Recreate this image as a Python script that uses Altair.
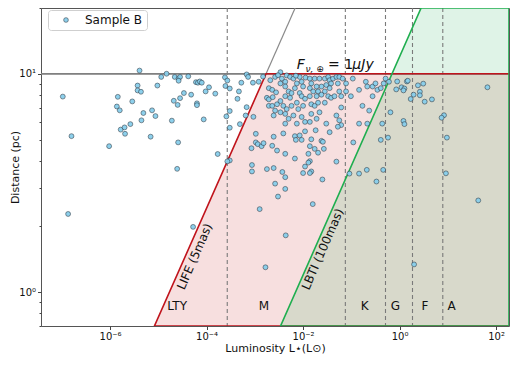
import altair as alt
import pandas as pd
import numpy as np

# ---------------- data ----------------
# Sample B stars: log10 luminosity (L_sun) and distance (pc)
LOG_L = [
    -6.98, -6.80, -6.02, -5.84, -5.86, -5.80, -5.78, -5.70, -5.69, -5.58,
    -5.54, -5.43, -5.43, -5.36, -5.35, -5.31, -5.39, -5.16, -5.13, -5.06,
    -5.02, -4.94, -4.83, -4.72, -4.68, -4.60, -4.59, -4.55, -4.66, -4.58,
    -4.55, -4.58, -4.47, -4.38, -4.32, -4.61, -4.22, -4.18, -4.14, -4.10,
    -4.20, -4.20, -4.06, -4.02, -3.95, -3.82, -3.77, -3.62, -3.61, -3.57,
    -3.59, -3.52, -3.52, -3.52, -3.52, -3.57, -3.36, -3.31, -3.28, -3.33,
    -3.17, -3.14, -3.17, -3.19, -3.04, -3.03, -2.98, -2.98, -3.07, -3.06,
    -3.06, -6.87, -4.28, -2.92, -2.47, -2.58, -2.68, -2.71, -2.64, -2.75,
    -2.71, -2.63, -2.56, -2.47, -2.44, -2.37, -2.37, -2.34, -2.27, -2.20,
    -2.30, -2.24, -2.37, -2.27, -2.17, -2.13, -2.07, -2.03, -2.00, -2.07,
    -2.03, -1.96, -2.71, -2.64, -2.54, -2.47, -2.41, -2.34, -2.24, -2.13,
    -2.10, -2.00, -2.58, -2.47, -2.61, -2.37, -2.30, -2.20, -2.03, -1.96,
    -2.37, -2.13, -2.83, -2.52, -2.15, -1.95, -1.86, -1.83, -1.86, -1.76,
    -1.66, -1.55, -1.48, -1.45, -1.42, -1.52, -1.62, -1.72, -1.79, -1.69,
    -1.55, -1.45, -1.38, -1.31, -1.25, -1.18, -1.28, -1.86, -1.72, -1.62,
    -1.48, -1.42, -1.35, -1.25, -1.21, -1.83, -1.76, -1.69, -1.55, -1.83,
    -1.66, -1.72, -1.86, -1.52, -1.31, -1.25, -1.21, -1.21, -1.28, -1.11,
    -1.11, -1.01, -0.97, -0.84, -0.77, -0.70, -0.67, -0.56, -0.56, -0.50,
    -0.46, -0.39, -0.33, -0.29, -0.22, -0.63, -0.67, -0.84, -0.36, -0.19,
    -2.61, -2.41, -2.17, -2.07, -2.15, -2.03, -1.96, -2.94, -2.86, -2.82,
    -2.64, -2.54, -2.37, -2.17, -1.96, -2.75, -2.61, -2.43, -2.37, -2.00,
    -2.58, -2.37, -2.52, -1.74, -1.45, -1.83, -1.62, -1.59, -1.86, -1.76,
    -1.57, -1.69, -1.89, -1.86, -1.89, -1.31, -1.83, -1.86, -1.60, -0.96,
    -1.04, -0.84, -0.68, -0.39, -0.24, -0.34, -0.48, -2.90, -1.80, -2.36,
    -2.78, 1.63, 0.30, -0.05, -0.07, 0.04, 0.10, 0.08, 0.15, 0.17,
    0.38, 0.49, 0.42, 0.42, 0.29, 0.23, 0.52, 0.67, 0.08, 0.10,
    0.92, 0.87, 0.98, 0.96, 1.82,
]
DIST = [
    7.86, 5.18, 4.66, 7.84, 7.08, 6.80, 5.55, 5.68, 5.31, 5.88,
    7.47, 8.83, 8.39, 8.27, 6.12, 6.61, 10.34, 5.15, 6.80, 6.40,
    8.83, 9.67, 10.0, 6.10, 7.52, 7.20, 4.85, 7.73, 9.67, 9.53,
    9.67, 9.29, 8.16, 9.73, 8.02, 3.67, 9.15, 9.10, 9.22, 9.10,
    7.32, 7.18, 6.18, 8.30, 8.67, 8.11, 4.29, 9.63, 8.79, 9.31,
    6.38, 8.56, 6.75, 5.66, 4.01, 3.97, 7.68, 5.88, 9.10, 8.30,
    9.93, 9.67, 7.03, 6.44, 9.10, 6.35, 5.31, 4.85, 4.56, 3.82,
    3.57, 2.28, 1.99, 9.19, 10.17, 9.67, 9.34, 8.59, 8.44, 7.76,
    7.63, 7.81, 8.22, 9.03, 9.50, 9.19, 8.74, 9.83, 9.67, 9.50,
    8.30, 8.16, 7.89, 7.76, 8.59, 9.03, 9.67, 9.19, 8.74, 8.16,
    7.89, 7.68, 7.13, 7.13, 7.25, 7.50, 7.13, 6.89, 7.13, 7.37,
    6.89, 7.13, 6.78, 6.66, 6.44, 6.55, 6.22, 6.44, 6.34, 6.02,
    5.91, 5.91, 9.70, 9.85, 9.80, 9.60, 9.50, 9.03, 8.59, 9.50,
    9.50, 9.50, 9.67, 9.34, 9.03, 8.88, 8.74, 8.74, 8.30, 8.30,
    8.30, 8.59, 9.50, 9.67, 9.67, 9.50, 9.03, 7.89, 7.89, 8.02,
    7.89, 7.76, 7.89, 8.30, 7.89, 7.25, 7.13, 7.37, 7.37, 6.55,
    6.66, 6.22, 6.02, 5.91, 6.44, 6.12, 7.01, 5.82, 5.72, 9.03,
    8.30, 7.89, 9.50, 8.44, 7.13, 9.19, 8.74, 8.74, 7.89, 9.03,
    8.44, 8.59, 9.03, 9.50, 9.19, 6.78, 5.91, 5.91, 5.91, 6.66,
    5.15, 5.33, 5.18, 5.22, 4.98, 4.98, 5.45, 4.76, 4.66, 4.81,
    4.68, 4.45, 4.30, 4.09, 3.76, 3.66, 3.70, 3.55, 3.36, 3.51,
    3.14, 2.97, 2.74, 5.51, 5.40, 5.01, 4.93, 4.88, 4.66, 4.53,
    4.53, 4.35, 4.30, 3.98, 3.92, 3.96, 3.57, 3.51, 3.28, 4.85,
    3.49, 3.49, 3.63, 4.98, 5.10, 3.63, 3.21, 2.40, 2.53, 1.82,
    1.30, 2.63, 1.34, 9.22, 8.48, 8.67, 8.56, 8.39, 9.22, 9.29,
    8.85, 9.01, 8.27, 7.97, 8.02, 7.66, 7.45, 7.63, 6.08, 5.88,
    6.46, 6.29, 5.10, 3.50, 8.67,
]

# axis ranges and ticks
L_RANGE = [3.7e-8, 185]
D_RANGE = [0.7, 20]
X_TICKS = [1e-6, 1e-4, 1e-2, 1, 100]
Y_TICKS = [0.7, 0.8, 0.9, 1, 2, 3, 4, 5, 6, 7, 8, 9, 10, 20]

# LIFE (5 mas) region: slanted edge from d=0.7 pc up to the 1 uJy limit at 10 pc
LIFE_L = [8.3e-6, 1.71e-3, 185]
LIFE_TOP = [0.7, 10, 10]
LIFE_EDGE_L = [185, 8.3e-6, 1.71e-3, 185]
LIFE_EDGE_D = [0.7, 0.7, 10, 10]
LIFE_EXT_L = [1.71e-3, 6.84e-3]          # gray continuation above 10 pc
LIFE_EXT_D = [10, 20]

# LBTI (100 mas) region
LBTI_L = [3.41e-3, 2.79, 185]
LBTI_TOP = [0.7, 20, 20]
LBTI_EDGE_L = [185, 3.41e-3, 2.79, 185, 185]
LBTI_EDGE_D = [0.7, 0.7, 20, 20, 0.7]
BOTH_L = [3.41e-3, 0.697, 185]
BOTH_TOP = [0.7, 10, 10]

# spectral-type boundaries and labels
SPT_BOUNDS = [2.68e-4, 0.0751, 0.51, 1.85, 7.85]
SPT_NAMES = ["LTY", "M", "K", "G", "F", "A"]
SPT_LABEL_L = [2.45e-5, 1.55e-3, 0.19, 0.82, 3.37, 12.0]
SPT_LABEL_D = 0.865

FONT = "DejaVu Sans"
RED = "#c0141c"
GREEN = "#1fae4f"
W, H = 468, 318

# ---------------- scales / axes ----------------
xs = alt.Scale(type="log", domain=L_RANGE, nice=False)
ys = alt.Scale(type="log", domain=D_RANGE, nice=False)
xlab = ("datum.value < 1e-5 ? '10⁻⁶' : datum.value < 1e-3 ? '10⁻⁴' : "
        "datum.value < 0.1 ? '10⁻²' : datum.value < 10 ? '10⁰' : '10²'")
ylab = "datum.value == 1 ? '10⁰' : datum.value == 10 ? '10¹' : ''"
xaxis = alt.Axis(values=X_TICKS, labelExpr=xlab, title="Luminosity L⋆(L⊙)",
                 grid=False, domain=False, tickSize=3.5, tickColor="#444",
                 labelFontSize=10, labelFont=FONT, labelColor="#111",
                 titleFont=FONT, titleFontSize=11, titleFontWeight="normal",
                 titleColor="#111", labelPadding=1.5, titlePadding=1)
yaxis = alt.Axis(values=Y_TICKS, labelExpr=ylab, title="Distance (pc)",
                 grid=False, domain=False,
                 tickSize={"condition": {"test": "datum.value == 1 || datum.value == 10",
                                         "value": 3.5}, "value": 2},
                 tickColor="#444",
                 labelFontSize=10, labelFont=FONT, labelColor="#111",
                 titleFont=FONT, titleFontSize=11, titleFontWeight="normal",
                 titleColor="#111", labelPadding=2,
                 titleX=-32, titleY=H / 2, titleAngle=270, titleBaseline="top",
                 titleAlign="center")


def X(field="L"):
    return alt.X(f"{field}:Q", scale=xs, axis=xaxis)


def Y(field="d"):
    return alt.Y(f"{field}:Q", scale=ys, axis=yaxis)


# ---------------- tables ----------------
stars = pd.DataFrame({"L": np.power(10.0, LOG_L), "d": DIST, "series": "Sample B"})
life_fill = pd.DataFrame({"L": LIFE_L, "top": LIFE_TOP, "bot": D_RANGE[0]})
lbti_fill = pd.DataFrame({"L": LBTI_L, "top": LBTI_TOP, "bot": D_RANGE[0]})
both_fill = pd.DataFrame({"L": BOTH_L, "top": BOTH_TOP, "bot": D_RANGE[0]})
life_edge = pd.DataFrame({"L": LIFE_EDGE_L, "d": LIFE_EDGE_D, "o": range(len(LIFE_EDGE_L))})
lbti_edge = pd.DataFrame({"L": LBTI_EDGE_L, "d": LBTI_EDGE_D, "o": range(len(LBTI_EDGE_L))})
life_ext = pd.DataFrame({"L": LIFE_EXT_L, "d": LIFE_EXT_D})
bounds = pd.DataFrame({"L": SPT_BOUNDS})
spt = pd.DataFrame({"L": SPT_LABEL_L, "d": SPT_LABEL_D, "t": SPT_NAMES})


def area(df, color):
    return alt.Chart(df).mark_area(color=color, opacity=1, clip=True).encode(
        x=X(), y=Y("top"), y2="bot:Q")


def edge(df, color):
    return alt.Chart(df).mark_line(color=color, strokeWidth=1.6, clip=True).encode(
        x=X(), y=Y(), order="o:Q")


def label(text, L, d, size=12, angle=0, style="normal", align="center", baseline="middle"):
    df = pd.DataFrame({"L": [L], "d": [d], "t": [text]})
    return alt.Chart(df).mark_text(font=FONT, fontSize=size, angle=angle, fontStyle=style,
                                   align=align, baseline=baseline, color="#111").encode(
        x=X(), y=Y(), text="t:N")


layers = [
    area(life_fill, "#f7dfdf"),
    area(lbti_fill, "#dff3e7"),
    area(both_fill, "#d8d9cb"),
    alt.Chart(bounds).mark_rule(color="#7a7a7a", strokeWidth=1.1, strokeDash=[4, 3]).encode(x=X()),
    alt.Chart(bounds).mark_rule(color="#808080", strokeWidth=1.2).encode(
        y=alt.Y(datum=10, type="quantitative", scale=ys, axis=yaxis)),
    alt.Chart(life_ext).mark_line(color="#8a8a8a", strokeWidth=1.2, clip=True).encode(x=X(), y=Y()),
    edge(life_edge, RED),
    edge(lbti_edge, GREEN),
    alt.Chart(stars).mark_circle(size=24, stroke="#2e3d48", strokeWidth=0.6, opacity=0.95,
                                 clip=True).encode(
        x=X(), y=Y(),
        color=alt.Color("series:N",
                        scale=alt.Scale(domain=["Sample B"], range=["#87ceeb"]),
                        legend=alt.Legend(title=None, orient="none", legendX=7, legendY=2,
                                          fillColor="white", strokeColor="#cfcfcf",
                                          cornerRadius=3, padding=4,
                                          symbolType="circle", symbolSize=22,
                                          symbolStrokeColor="#2e3d48", symbolStrokeWidth=0.6,
                                          symbolOffset=8, labelOffset=13,
                                          labelFont=FONT, labelFontSize=12,
                                          labelColor="#111"))),
    alt.Chart(spt).mark_text(font=FONT, fontSize=12, color="#111").encode(
        x=X(), y=Y(), text="t:N"),
    label("LIFE (5mas)", 5.66e-5, 1.457, angle=293.5),
    label("LBTI (100mas)", 0.0254, 1.575, angle=293.5),
    label("F", 7.36e-3, 10.55, size=14, style="italic", align="left", baseline="alphabetic"),
    label("ν, ⊕", 1.12e-2, 10.2, size=9, style="italic", align="left", baseline="alphabetic"),
    label("= 1", 0.033, 10.55, size=14, align="left", baseline="alphabetic"),
    label("μJy", 0.105, 10.55, size=14, style="italic", align="left", baseline="alphabetic"),
]

chart = alt.layer(*layers).properties(
    width=W, height=H,
    autosize=alt.AutoSizeParams(type="none"),
    padding={"left": 33, "top": 0, "right": 1, "bottom": 28},
).configure_view(stroke="#555", strokeWidth=1)

chart.save("out.html", embed_options={"renderer": "svg", "actions": False})
